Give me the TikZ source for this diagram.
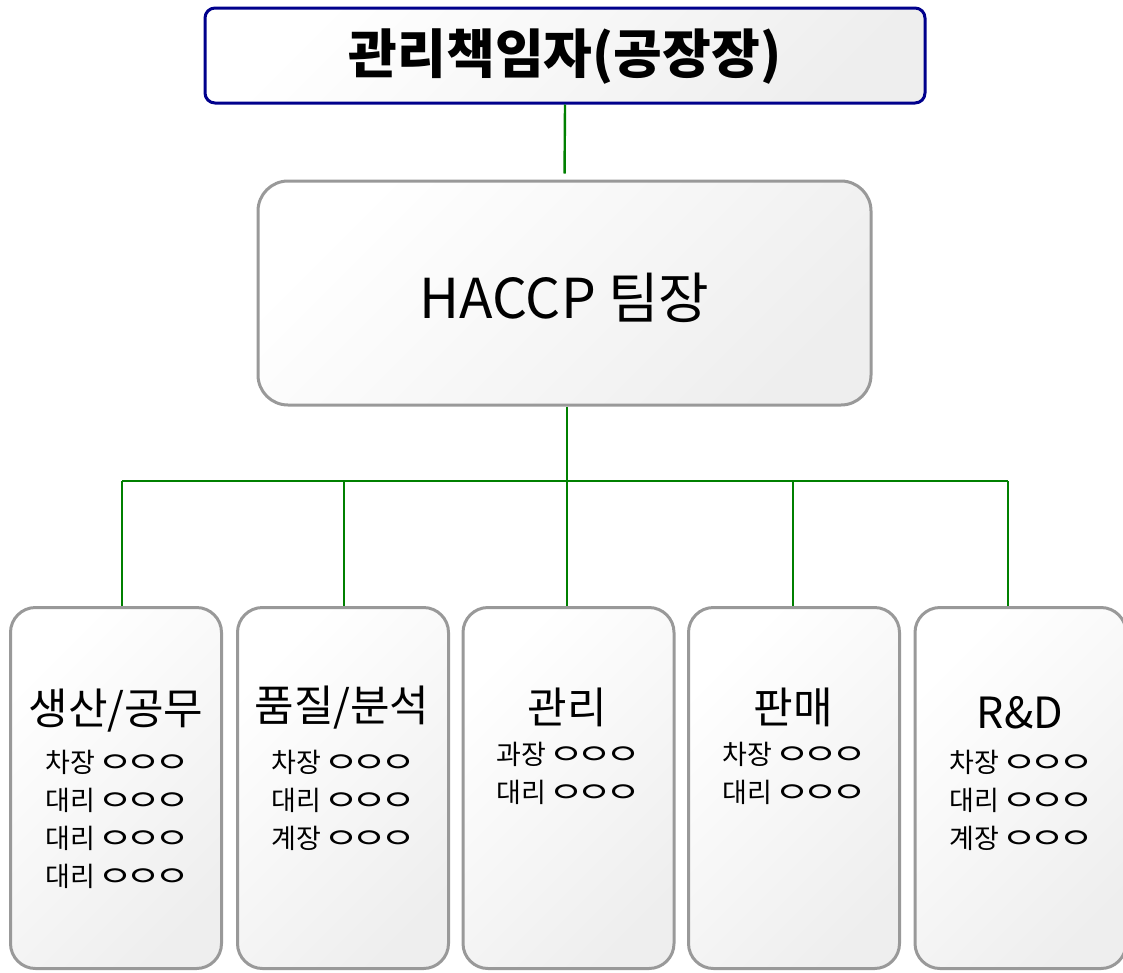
\documentclass[tikz,border=0pt]{standalone}
\usepackage{fontspec}
\setmainfont{Noto Sans CJK KR}
\usetikzlibrary{positioning}

% wide jamo circle, as the list names are blanked out
\newcommand{\blank}{\makebox[1.05em]{\scalebox{1.45}[1.05]{ㅇ}}}
\newcommand{\blanks}{\blank\blank\blank}

\tikzset{
  cardfill/.style={shading=axis, top color=white, bottom color=gray!13, shading angle=45},
  bossbox/.style={draw=blue!55!black, line width=3pt, rounded corners=10pt, cardfill,
    minimum width=720pt, minimum height=95pt},
  leadbox/.style={draw=gray!80, line width=3pt, rounded corners=30pt, cardfill,
    minimum width=613pt, minimum height=224pt},
  deptbox/.style={draw=gray!80, line width=3pt, rounded corners=25pt, cardfill,
    minimum width=211pt, minimum height=361pt},
  depttitle/.style={font=\fontsize{43pt}{50pt}\selectfont, inner sep=0pt},
  deptlist/.style={font=\fontsize{27pt}{38pt}\selectfont, align=center, anchor=north, inner sep=0pt},
  link/.style={draw=green!50!black, line width=2.4pt}
}

\begin{document}
\begin{tikzpicture}[x=1pt, y=-1pt]
  \useasboundingbox (0,0) rectangle (1123,972);

  % top levels
  \node[bossbox] (boss) at (565, 55.5) {};
  \node[font=\fontsize{53pt}{60pt}\selectfont\bfseries] (bosstext) at (565, 57) {관리책임자(공장장)};
  \node[leadbox] (lead) at (564.5, 293) {};
  \node[font=\fontsize{55pt}{60pt}\selectfont] (leadtext) at (564.5, 298) {HACCP 팀장};

  % departments
  \node[deptbox] (prod) at (116, 788) {};
  \node[deptbox] (qual) at (343, 788) {};
  \node[deptbox] (admin) at (568.5, 788) {};
  \node[deptbox] (sales) at (794, 788) {};
  \node[deptbox] (rnd) at (1020.5, 788) {};

  \node[depttitle] (prodtitle) at (116, 711) {생산/공무};
  \node[deptlist] (prodlist) at (116, 750) {차장 \blanks\\대리 \blanks\\대리 \blanks\\대리 \blanks};

  \node[depttitle] (qualtitle) at (342, 708) {품질/분석};
  \node[deptlist] (quallist) at (342, 750) {차장 \blanks\\대리 \blanks\\계장 \blanks};

  \node[depttitle] (admintitle) at (567, 707) {관리};
  \node[deptlist] (adminlist) at (567, 742) {과장 \blanks\\대리 \blanks};

  \node[depttitle] (salestitle) at (793, 707) {판매};
  \node[deptlist] (saleslist) at (793, 742) {차장 \blanks\\대리 \blanks};

  \node[depttitle] (rndtitle) at (1020, 713) {R\&D};
  \node[deptlist] (rndlist) at (1020, 750) {차장 \blanks\\대리 \blanks\\계장 \blanks};

  % connectors
  \coordinate (bus) at (567, 481);
  \coordinate (j1) at (122, 481);
  \coordinate (j2) at (344, 481);
  \coordinate (j4) at (793, 481);
  \coordinate (j5) at (1008, 481);

  \draw[link, shorten >=6pt] (boss.south) -- (lead.north);
  \draw[link] (bus |- lead.south) -- (bus);
  \draw[link] (j1) -- (j5);
  \draw[link] (j1) -- (j1 |- prod.north);
  \draw[link] (j2) -- (j2 |- qual.north);
  \draw[link] (bus) -- (bus |- admin.north);
  \draw[link] (j4) -- (j4 |- sales.north);
  \draw[link] (j5) -- (j5 |- rnd.north);
\end{tikzpicture}
\end{document}
